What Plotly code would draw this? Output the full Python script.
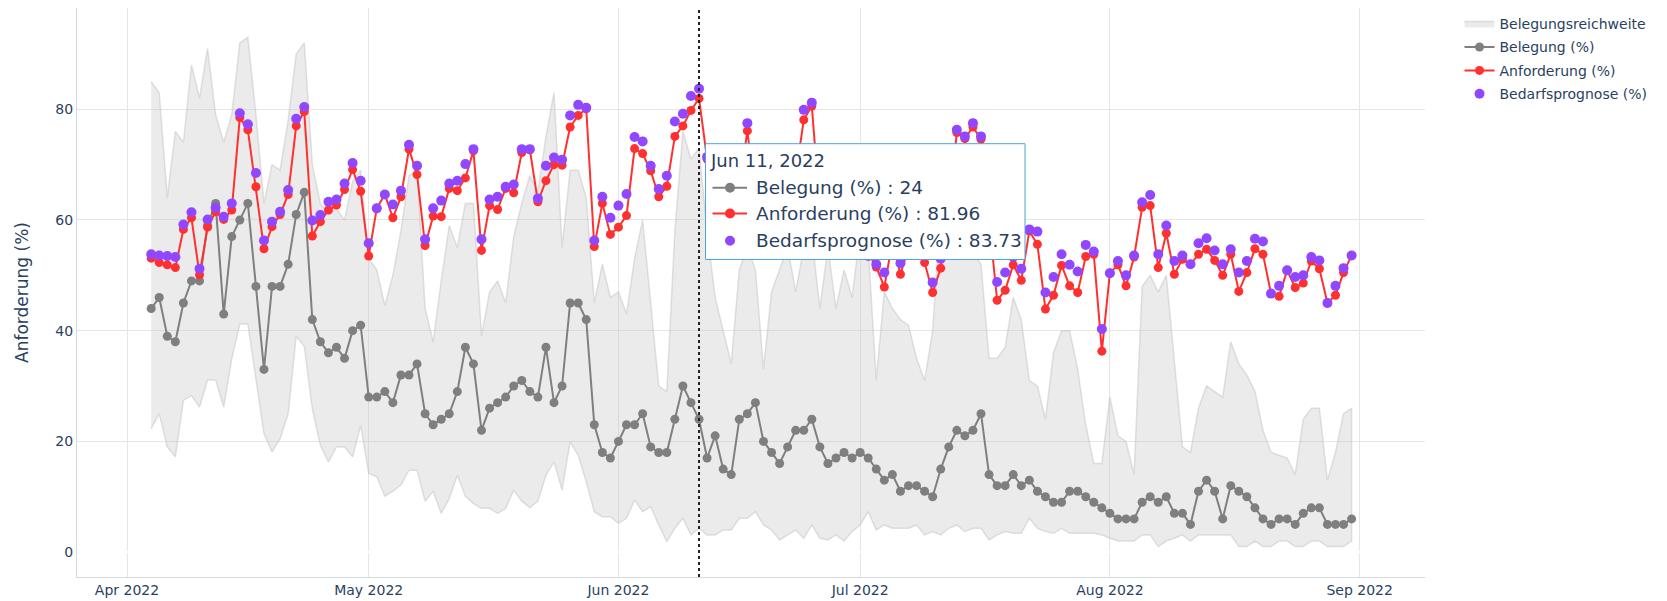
import pandas as pd
import plotly.graph_objects as go

# ---------------- data ----------------
start_date = "2022-04-04"
end_date = "2022-08-31"
dates = pd.date_range(start_date, end_date, freq="D")

belegung = [
    44, 46, 39, 38, 45, 49, 49, 59, 63, 43, 57, 60, 63, 48, 33, 48, 48, 52,
    61, 65, 42, 38, 36, 37, 35, 40, 41, 28, 28, 29, 27, 32, 32, 34, 25, 23, 24, 25, 29, 37, 34, 22, 26, 27, 28,
    30, 31, 29, 28, 37, 27, 30, 45, 45, 42, 23, 18, 17, 20, 23, 23, 25, 19, 18, 18, 24, 30, 27, 24, 17, 21, 15,
    14, 24, 25, 27, 20, 18, 16, 19, 22, 22, 24, 19, 16, 17, 18, 17, 18, 17, 15, 13, 14, 11, 12, 12, 11, 10, 15, 19,
    22, 21, 22, 25, 14, 12, 12, 14, 12, 13, 11, 10, 9, 9, 11, 11, 10, 9, 8, 7, 6, 6, 6, 9, 10, 9, 10,
    7, 7, 5, 11, 13, 11, 6, 12, 11, 10, 8, 6, 5, 6, 6, 5, 7, 8, 8, 5, 5, 5, 6,
]

anforderung = [
    53.1, 52.3, 51.9, 51.4, 58.3, 60.4, 50.1, 58.7, 61.5, 60.1, 61.8, 78.5, 76.3, 66.0, 54.8, 58.8, 61.0, 64.6,
    77.0, 79.6, 57.1, 59.7, 61.8, 62.7, 65.5, 69.1, 65.2, 53.5, 62.1, 64.6, 60.4, 64.2, 72.8, 68.2, 55.4, 60.7,
    60.6, 65.7, 65.3, 67.6, 72.5, 54.5, 62.6, 61.9, 65.7,
    64.9, 72.2, 72.7, 63.3, 67.1, 70.0, 69.9, 76.8, 78.9, 80.1, 55.2, 63.0, 57.4, 58.7, 60.8, 72.9, 72.0, 68.9,
    64.2, 66.1, 75.1, 77.0, 79.8, 81.96, 71.0, 66.0, 62.0,
    60.0, 66.0, 76.1, 64.0, 60.0, 58.0, 61.0, 66.0, 68.0, 78.1, 80.6, 62.0, 58.0, 60.0, 57.0, 59.0, 55.0, 54.0,
    51.5, 47.9, 56.0, 50.2, 55.0, 56.0, 52.3, 46.9, 51.3, 62.0,
    75.8, 74.7, 76.8, 74.6, 60.0, 45.5, 47.3, 51.9, 49.1, 58.0, 55.6, 43.9, 46.4, 51.8, 48.1, 46.9, 53.4, 53.8,
    36.3, 50.4, 51.9, 48.1, 53.3, 62.3, 62.6, 51.4, 57.6,
    50.2, 52.9, 52.0, 53.8, 54.7, 52.7, 50.0, 53.8, 47.1, 50.5, 54.8, 53.8, 46.7, 46.2, 50.9, 47.8, 48.6, 52.6,
    51.2, 45.0, 46.4, 50.5, 53.6,
]

bedarfsprognose = [
    53.8, 53.6, 53.5, 53.3, 59.2, 61.4, 51.2, 60.1, 62.2, 60.6, 63.0, 79.3, 77.3, 68.5, 56.3, 59.7, 61.5, 65.4,
    78.3, 80.4, 59.9, 60.9, 63.3, 63.7, 66.6, 70.3, 67.1, 55.8, 62.1, 64.6, 62.8, 65.3, 73.6, 69.8, 56.5, 62.1,
    63.5, 66.6, 67.1, 70.1, 72.8, 56.5, 63.7, 64.2, 66.0,
    66.4, 72.8, 72.8, 63.9, 69.8, 71.3, 70.9, 78.9, 80.8, 80.3, 56.3, 64.2, 60.4, 62.6, 64.7, 75.0, 74.2, 69.8,
    65.6, 68.0, 77.8, 79.2, 82.4, 83.73, 71.4, 67.0, 63.5,
    61.0, 67.0, 77.5, 65.0, 61.0, 59.0, 62.0, 67.0, 70.0, 79.9, 81.2, 63.0, 59.0, 61.0, 58.0, 60.0, 56.5, 53.5,
    52.0, 50.5, 57.0, 52.2, 56.0, 57.0, 53.5, 48.7, 53.0, 63.0,
    76.3, 75.1, 77.5, 75.1, 61.0, 48.8, 50.5, 53.3, 51.2, 58.3, 57.9, 46.9, 49.7, 53.8, 51.9, 50.7, 55.5, 54.3,
    40.3, 50.4, 52.6, 50.0, 53.6, 63.2, 64.5, 53.8, 59.0,
    52.6, 53.6, 52.0, 55.8, 56.7, 54.5, 52.0, 54.7, 50.5, 52.6, 56.6, 56.1, 46.7, 48.1, 50.9, 49.7, 50.0, 53.3,
    52.7, 45.0, 48.1, 51.3, 53.6,
]

reichweite_oben = [
    85, 83, 64, 76, 74, 88, 82, 91, 79, 74,
    79, 92, 93, 79, 63, 70, 69, 78, 90, 92,
    70, 63, 61, 62, 60, 67, 69, 53, 51, 44.5,
    50, 58, 68, 69, 44, 38, 49, 59, 55, 63,
    63, 39, 47, 49, 45, 57, 63, 68, 65, 75,
    83, 55, 69, 69, 64, 45, 52, 46, 47, 43,
    53, 60, 45, 30, 29, 58, 76, 71, 73, 58,
    46, 40, 34, 51, 55, 51, 33, 47, 51, 55,
    47, 55, 57, 44, 55, 44, 51, 46, 58, 55,
    31, 47, 44, 42, 41, 35, 31, 40, 62, 65,
    60, 55, 54, 52, 35, 35, 37, 46, 42, 31,
    30, 24, 36, 40, 40, 33, 23, 16, 16, 28,
    21, 20, 14, 48, 50, 47, 50, 35, 19, 18,
    26, 30, 29, 28, 38, 34, 32, 29, 22, 18,
    17.5, 17, 14, 24, 26, 26, 13, 18, 25, 26,
]

reichweite_unten = [
    22.3, 25, 19, 17.2, 27.4, 28.3, 26.2, 31.1, 31.1, 26.2, 34.9, 41.2, 41.2, 31.3, 21.4, 18.1, 20.5, 25,
    39, 37.2, 25.9, 19.3, 16.3, 19, 19, 17.2, 22.9, 14.2, 13.6, 10.1, 11, 12.1, 14.8, 14.8, 9.2, 11, 7, 9.7,
    13.9, 10.1, 8.8, 7.9, 7.9, 7, 7.9, 11.2, 9.2, 8, 9.2, 13.9, 16.3,
    11.2, 19.9, 17.5, 12.7, 7.3, 6.4, 6.4, 5.2, 6.1, 9.4, 7.3, 8.2, 4.9, 1.9, 4.3, 6.1, 3.1, 4.3, 3.1, 3.1,
    4, 4, 6.1, 6.1, 7.3, 4.9, 4, 2.2, 3.1, 4, 2.5, 4.9, 2.5, 2.2, 3.1, 2, 3.7, 4.9, 7.3, 4, 4.9, 4.3, 4.3,
    4.3, 4.9, 3.1, 3.7, 3.1, 4.3, 4.9, 3.7, 4.3, 4.3, 2.2, 3.1, 3.7, 3.4, 3.4, 6.1, 4.3, 3.7, 3.4, 4.3, 3.4,
    3.4, 3.4, 3.4,
    3.1, 2.5, 2, 2, 2, 3.1, 3.1, 1, 2, 2.5, 3.1, 2, 3.1, 3.1, 3.1, 3.1, 3.1, 1, 1, 2, 1, 1, 2, 2, 1, 1, 2,
    2, 1, 1, 1, 2,
]

hover_date = "2022-06-11"

# ---------------- styles ----------------
FONT = "DejaVu Sans"
TXT = "#2a3f5f"
GRID = "#E5E5E5"
GRAY = "#7f7f7f"
RED = "#FF3030"
PURPLE = "#9147FF"

x_list = list(dates)

fig = go.Figure()
fig.add_trace(go.Scatter(
    x=x_list + x_list[::-1],
    y=reichweite_oben + reichweite_unten[::-1],
    fill="toself", fillcolor="rgba(200,200,200,0.36)",
    line=dict(color="rgba(190,190,190,0.45)", width=1.5),
    mode="lines", name="Belegungsreichweite", hoverinfo="skip", legendgroup="g1",
))
fig.add_trace(go.Scatter(
    x=x_list, y=belegung, mode="lines+markers", name="Belegung (%)", legendgroup="g2",
    line=dict(color=GRAY, width=2), marker=dict(color=GRAY, size=9),
))
fig.add_trace(go.Scatter(
    x=x_list, y=anforderung, mode="lines+markers", name="Anforderung (%)", legendgroup="g3",
    line=dict(color=RED, width=2), marker=dict(color=RED, size=9),
))
fig.add_trace(go.Scatter(
    x=x_list, y=bedarfsprognose, mode="markers", name="Bedarfsprognose (%)", legendgroup="g4",
    marker=dict(color=PURPLE, size=10),
))

# ---------------- geometry ----------------
W, H = 1667, 601
ML, MR, MT, MB = 77, 242, 8, 24
plot_h = H - MT - MB


def paper_y(px):
    return (H - MB - px) / plot_h


fig.update_layout(
    template="plotly",
    width=W, height=H,
    margin=dict(l=ML, r=MR, t=MT, b=MB, pad=0),
    paper_bgcolor="white", plot_bgcolor="white",
    font=dict(family=FONT, size=14, color=TXT),
    legend=dict(font=dict(size=14, color=TXT), tracegroupgap=2.2, x=1.0256, y=1,
                xanchor="left", yanchor="top"),
    showlegend=True,
    hovermode="x unified",
)
fig.update_xaxes(
    range=["2022-03-25 19:00", "2022-09-09 02:40"],
    tickformat="%b %Y", dtick="M1", tick0="2022-04-01",
    showgrid=True, gridcolor=GRID, gridwidth=1,
    showline=True, linecolor="#D5D9E0", linewidth=1,
    zeroline=False, automargin=False, ticks="",
    tickfont=dict(size=14, color=TXT),
)
fig.update_yaxes(
    range=[-4.5, 98.3], dtick=20, tick0=0,
    showgrid=True, gridcolor=GRID, gridwidth=1,
    zeroline=True, zerolinecolor="white", zerolinewidth=2,
    showline=True, linecolor="#D5D9E0", linewidth=1,
    automargin=False, ticks="",
    tickfont=dict(size=14, color=TXT),
    title=dict(text="Anforderung (%)", font=dict(size=17, color=TXT), standoff=22),
)

# ---------------- static "hover" ----------------
h = list(dates.strftime("%Y-%m-%d")).index(hover_date)
hx = dates[h]
BORDER = "#4DA3E0"
rows = [paper_y(187.8), paper_y(213.5), paper_y(240.7)]

shapes = [
    dict(type="line", xref="x", yref="paper", x0=hx, x1=hx, y0=0, y1=1,
         line=dict(color="#222222", width=2, dash="dot"), layer="above"),
    dict(type="rect", xref="x", yref="paper", xsizemode="pixel", xanchor=hx,
         x0=6.5, x1=326, y0=paper_y(259.5), y1=paper_y(143.7),
         fillcolor="white", line=dict(color=BORDER, width=1), layer="above"),
]
for yy, col in [(rows[0], GRAY), (rows[1], RED)]:
    shapes.append(dict(type="line", xref="x", yref="paper", xsizemode="pixel", xanchor=hx,
                       x0=13.5, x1=48, y0=yy, y1=yy, line=dict(color=col, width=2), layer="above"))
for yy, col in [(rows[0], GRAY), (rows[1], RED), (rows[2], PURPLE)]:
    shapes.append(dict(type="circle", xref="x", yref="paper", xsizemode="pixel", ysizemode="pixel",
                       xanchor=hx, yanchor=yy, x0=26, x1=36, y0=-5, y1=5,
                       fillcolor=col, line=dict(color=col, width=0), layer="above"))
fig.update_layout(shapes=shapes)

hover_texts = [
    f"Belegung (%) : {belegung[h]:g}",
    f"Anforderung (%) : {anforderung[h]:g}",
    f"Bedarfsprognose (%) : {bedarfsprognose[h]:g}",
]
fig.add_annotation(x=hx, xref="x", y=paper_y(161), yref="paper", xanchor="left", yanchor="middle",
                   xshift=8.5, text=hx.strftime("%b %d, %Y"), showarrow=False,
                   font=dict(size=18, color=TXT, family=FONT))
for yy, t in zip(rows, hover_texts):
    fig.add_annotation(x=hx, xref="x", y=yy, yref="paper", xanchor="left", yanchor="middle",
                       xshift=54.5, text=t, showarrow=False,
                       font=dict(size=18.5, color=TXT, family=FONT))

fig.write_html(
    "out.html",
    config={"displayModeBar": False},
    post_script="document.body.style.margin='0';document.body.style.overflow='hidden';",
)
